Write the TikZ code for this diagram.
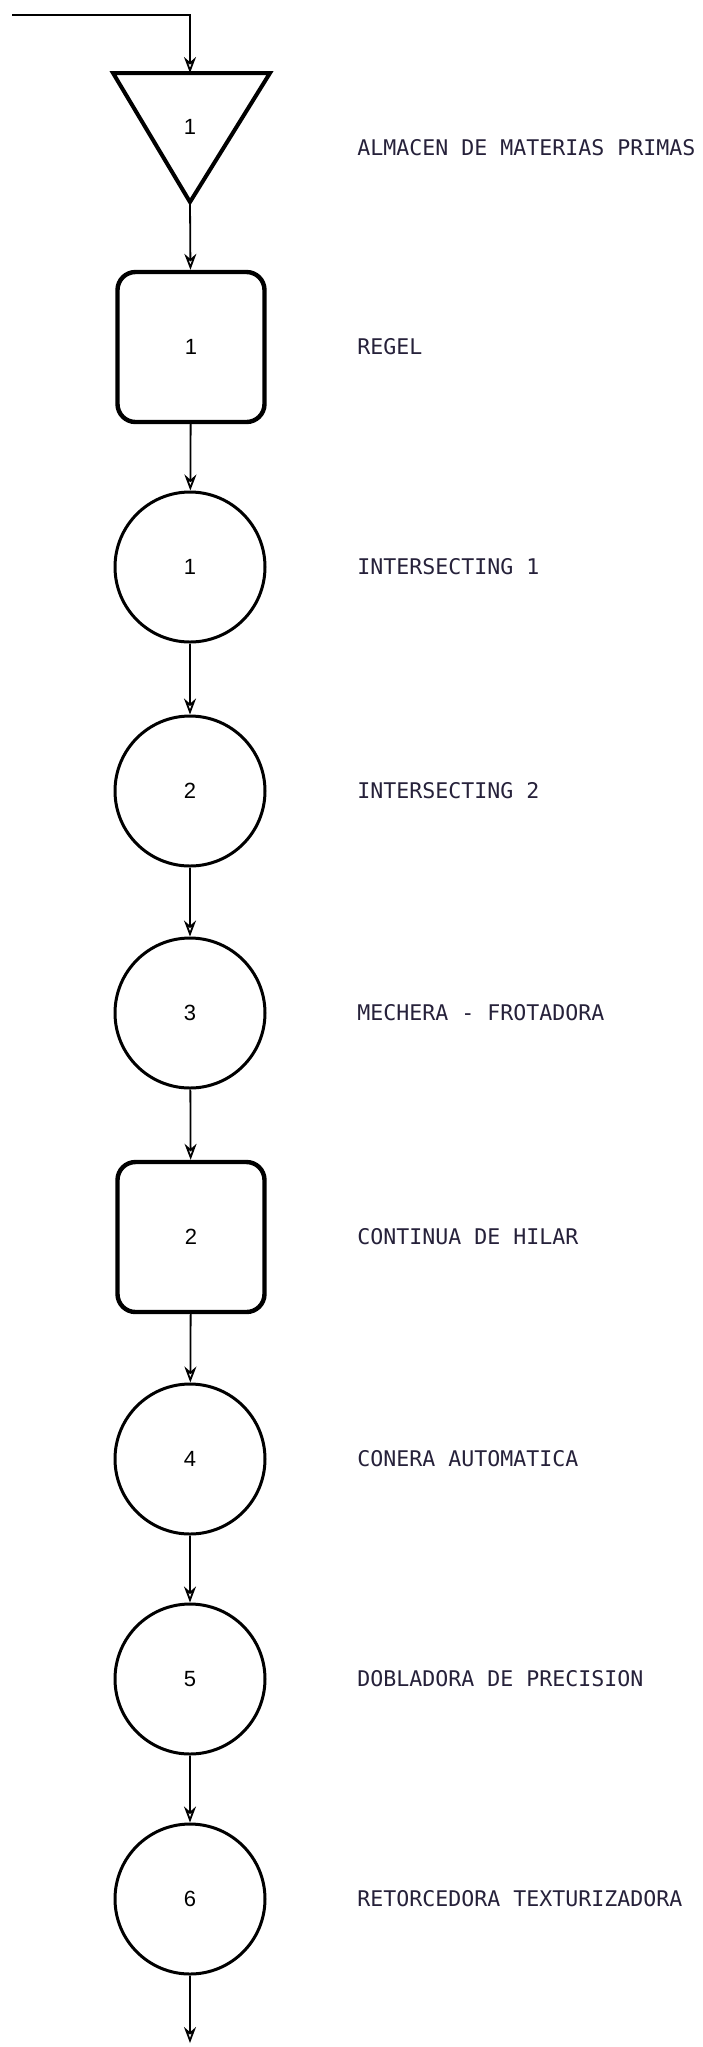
\documentclass[tikz,border=0pt]{standalone}
\usepackage{fontspec}
\setmonofont{DejaVu Sans Mono}
\setsansfont{Liberation Sans}
\usetikzlibrary{arrows.meta,positioning}

\definecolor{tinta}{RGB}{38,33,58}

\begin{document}
\begin{tikzpicture}[x=0.5pt,y=-0.5pt,
  proc/.style={circle,draw,line width=1.5pt,minimum size=75pt,inner sep=0pt,font=\sffamily\fontsize{11}{11}\selectfont},
  maq/.style={draw,rounded corners=9pt,line width=2.2pt,minimum width=73.5pt,minimum height=75pt,inner sep=0pt,font=\sffamily\fontsize{11}{11}\selectfont},
  txt/.style={anchor=west,inner sep=0pt,text=tinta,font=\ttfamily\fontsize{10.8}{12}\selectfont},
  flecha/.style={line width=0.9pt,-{Stealth[open,length=8pt,width=6pt]}}]

\useasboundingbox (0,0) rectangle (702,2047);

% entrada y almacen
\coordinate (ini) at (12,15);
\coordinate (esq) at (190,15);
\coordinate (tsup) at (190,73);
\coordinate (tpun) at (190,202);
\draw[line width=2pt, line join=miter] (113,73) -- (270,73) -- (tpun) -- cycle;
\node[font=\sffamily\fontsize{11}{11}\selectfont] (a1) at (190,127) {1};

% maquinas y procesos
\node[maq]  (m1) at (191,347)  {1};
\node[proc] (p1) at (190,567)  {1};
\node[proc] (p2) at (190,791)  {2};
\node[proc] (p3) at (190,1013) {3};
\node[maq]  (m2) at (191,1237) {2};
\node[proc] (p4) at (190,1459) {4};
\node[proc] (p5) at (190,1679) {5};
\node[proc] (p6) at (190,1899) {6};
\coordinate (fin) at (190,2043);

% textos
\node[txt] (l0) at (357,148)  {ALMACEN DE MATERIAS PRIMAS};
\node[txt] (l1) at (357,347)  {REGEL};
\node[txt] (l2) at (357,567)  {INTERSECTING 1};
\node[txt] (l3) at (357,791)  {INTERSECTING 2};
\node[txt] (l4) at (357,1013) {MECHERA - FROTADORA};
\node[txt] (l5) at (357,1237) {CONTINUA DE HILAR};
\node[txt] (l6) at (357,1459) {CONERA AUTOMATICA};
\node[txt] (l7) at (357,1679) {DOBLADORA DE PRECISION};
\node[txt] (l8) at (357,1899) {RETORCEDORA TEXTURIZADORA};

% flujo
\draw[flecha] (ini) -- (esq) -- (tsup);
\draw[flecha] (tpun) -- (m1);
\draw[flecha] (m1) -- (p1);
\draw[flecha] (p1) -- (p2);
\draw[flecha] (p2) -- (p3);
\draw[flecha] (p3) -- (m2);
\draw[flecha] (m2) -- (p4);
\draw[flecha] (p4) -- (p5);
\draw[flecha] (p5) -- (p6);
\draw[flecha] (p6) -- (fin);

\end{tikzpicture}
\end{document}
